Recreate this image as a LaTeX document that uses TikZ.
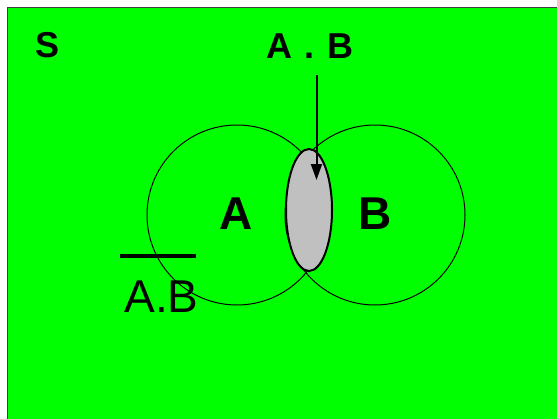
\documentclass[tikz,border=0pt]{standalone}
\usepackage{fontspec}
\setmainfont{Liberation Sans}
\usetikzlibrary{arrows.meta,shapes.geometric}
\definecolor{bggreen}{RGB}{0,255,0}
\definecolor{lensgray}{RGB}{192,192,192}
\definecolor{framegray}{RGB}{64,64,64}
\tikzset{
  setcircle/.style={circle,draw=black,line width=1pt,minimum size=180pt,inner sep=0pt},
  lens/.style={ellipse,draw=black,fill=lensgray,line width=2pt,minimum width=46pt,minimum height=122pt,inner sep=0pt},
  boldlabel/.style={inner sep=0pt,anchor=base,font=\bfseries\fontsize{46pt}{50pt}\selectfont},
  toplabel/.style={inner sep=0pt,anchor=base,font=\bfseries\fontsize{36pt}{40pt}\selectfont},
  pointer/.style={line width=2pt,-{Triangle[length=16pt,width=11pt]}}
}
\begin{document}
\begin{tikzpicture}[x=1pt,y=-1pt]
\useasboundingbox (0,0) rectangle (557,418);
\draw[fill=bggreen,draw=framegray,line width=1pt] (7.5,7.5) rectangle (560,421);
\node[setcircle] (cA) at (237,215) {};
\node[setcircle] (cB) at (375,215) {};
\node[lens] (lens) at (309,210) {};
\node[toplabel] (S) at (48,57) {S};
\node[toplabel] (AB) at (310,58) {A\hspace{3pt} .\hspace{3pt} B};
\node[boldlabel] (A) at (236.5,229) {A};
\node[boldlabel] (B) at (375.5,229) {B};
\node[inner sep=0pt,anchor=base,font=\fontsize{46pt}{50pt}\selectfont] (notAB) at (161.5,312) {A.B};
\coordinate (bar1) at (120,256);
\coordinate (bar2) at (196,256);
\draw[line width=4pt] (bar1) -- (bar2);
\coordinate (arrtop) at (316.5,75);
\coordinate (arrtip) at (316.5,180);
\draw[pointer] (arrtop) -- (arrtip);
\end{tikzpicture}
\end{document}
